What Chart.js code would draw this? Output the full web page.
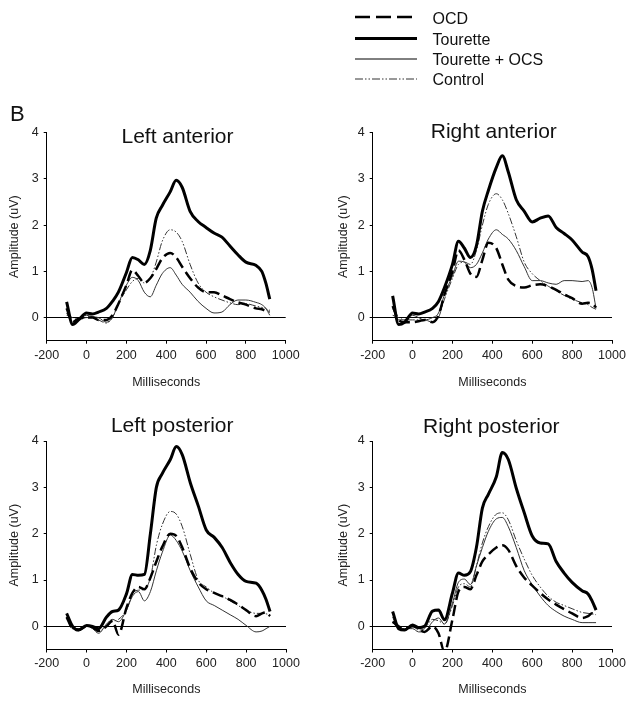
<!DOCTYPE html>
<html>
<head>
<meta charset="utf-8">
<script src="https://cdn.jsdelivr.net/npm/chart.js@4"></script>
<style>
  html, body { margin: 0; padding: 0; background: #fff; }
  #page { position: relative; width: 634px; height: 705px; overflow: hidden; }
  canvas { position: absolute; }
  #overlay { position: absolute; left: 0; top: 0; }
  #overlay text { font-family: "Liberation Sans", Arial, sans-serif; fill: #111; }
</style>
</head>
<body>
<div id="page">
  <canvas id="la" width="317" height="310" style="left:0px;top:90px"></canvas>
  <canvas id="ra" width="317" height="310" style="left:317px;top:90px"></canvas>
  <canvas id="lp" width="317" height="307" style="left:0px;top:398px"></canvas>
  <canvas id="rp" width="317" height="307" style="left:317px;top:398px"></canvas>
  <svg id="overlay" width="634" height="705">
    <!-- legend -->
    <line x1="355" y1="17" x2="417" y2="17" stroke="#000" stroke-width="2.7" stroke-dasharray="15 6"/>
    <line x1="355" y1="38.5" x2="417" y2="38.5" stroke="#000" stroke-width="3.2"/>
    <line x1="355" y1="59" x2="417" y2="59" stroke="#000" stroke-width="1"/>
    <line x1="355" y1="79" x2="417" y2="79" stroke="#333" stroke-width="1" stroke-dasharray="8 2 1.5 2 1.5 2"/>
    <text x="432.5" y="24" font-size="16">OCD</text>
    <text x="432.5" y="45" font-size="16">Tourette</text>
    <text x="432.5" y="65" font-size="16">Tourette + OCS</text>
    <text x="432.5" y="85" font-size="16">Control</text>
    <text x="10" y="121" font-size="22">B</text>
    <!-- panel titles -->
    <text x="177.5" y="143" font-size="21" text-anchor="middle">Left anterior</text>
    <text x="493.8" y="137.7" font-size="21" text-anchor="middle">Right anterior</text>
    <text x="172.2" y="431.7" font-size="21" text-anchor="middle">Left posterior</text>
    <text x="491.3" y="433" font-size="21" text-anchor="middle">Right posterior</text>
  </svg>
</div>
<script>
// time points (ms) shared by all waveforms
const ms = [-100,-70,-40,0,30,60,100,130,160,200,230,260,290,320,350,380,420,450,480,520,560,600,640,680,720,760,800,850,880,900,920];

// Left anterior
const laOCD = [0.2,-0.1,-0.02,0,0,-0.05,-0.05,0.05,0.3,0.7,1.03,0.9,0.75,0.85,1.05,1.28,1.4,1.3,1.1,0.85,0.65,0.55,0.55,0.48,0.4,0.33,0.28,0.2,0.18,0.15,0.15];
const laTourette = [0.34,-0.15,-0.05,0.1,0.08,0.12,0.2,0.35,0.55,0.97,1.3,1.25,1.15,1.45,2.15,2.42,2.72,2.97,2.82,2.3,2.08,1.95,1.83,1.74,1.55,1.36,1.2,1.13,1.0,0.75,0.4];
const laTourOCS = [0.1,-0.1,-0.05,0.05,0.02,0,-0.1,0,0.3,0.7,0.87,0.8,0.55,0.45,0.7,0.95,1.08,0.92,0.72,0.55,0.35,0.2,0.1,0.12,0.28,0.38,0.38,0.33,0.28,0.2,0.05];
const laControl = [0.05,0,-0.05,0,0,-0.05,-0.12,0,0.3,0.6,0.78,0.85,0.75,0.85,1.2,1.65,1.9,1.85,1.65,1.15,0.75,0.55,0.45,0.38,0.32,0.28,0.3,0.25,0.22,0.2,0.1];

// Right anterior
const raOCD = [0.25,-0.05,-0.1,-0.1,-0.08,-0.05,-0.1,0.05,0.5,1.0,1.45,1.25,0.95,0.88,1.25,1.62,1.5,1.15,0.82,0.68,0.65,0.7,0.72,0.68,0.6,0.5,0.42,0.3,0.32,0.3,0.22];
const raTourette = [0.47,-0.15,-0.1,0.1,0.08,0.12,0.2,0.35,0.65,1.15,1.65,1.5,1.3,1.55,2.3,2.75,3.25,3.5,3.15,2.55,2.3,2.07,2.15,2.2,1.95,1.82,1.68,1.42,1.32,1.05,0.58];
const raTourOCS = [0.2,-0.05,-0.05,0.05,0,-0.05,0,0.1,0.5,0.9,1.22,1.2,1.08,1.15,1.4,1.7,1.9,1.8,1.7,1.45,1.1,0.8,0.8,0.75,0.72,0.8,0.8,0.78,0.8,0.65,0.2];
const raControl = [0.05,0,-0.05,-0.05,-0.05,-0.05,-0.1,0,0.4,0.85,1.15,1.2,1.15,1.45,2.0,2.45,2.68,2.55,2.25,1.75,1.2,0.95,0.8,0.68,0.58,0.48,0.4,0.32,0.28,0.22,0.18];

// Left posterior
const lpOCD = [0.2,-0.05,-0.08,0,-0.02,-0.1,0,0.12,-0.18,0.4,0.72,0.85,0.8,1.05,1.4,1.72,2.0,1.95,1.7,1.25,0.95,0.8,0.72,0.65,0.57,0.47,0.35,0.22,0.28,0.3,0.22];
const lpTourette = [0.28,0,-0.08,0.02,0,-0.05,0.2,0.32,0.35,0.7,1.12,1.1,1.12,2.0,3.0,3.3,3.6,3.88,3.7,3.1,2.6,2.08,1.92,1.7,1.38,1.12,0.97,0.93,0.77,0.58,0.32];
const lpTourOCS = [0.2,-0.05,-0.05,0,-0.05,-0.15,0.05,0.15,0.1,0.35,0.65,0.75,0.55,0.75,1.2,1.6,1.97,1.85,1.62,1.2,0.85,0.55,0.45,0.35,0.25,0.15,0.02,-0.12,-0.1,-0.05,0];
const lpControl = [0.2,-0.05,-0.05,0,0,-0.1,0,0.1,0.15,0.35,0.7,0.78,0.8,1.05,1.75,2.2,2.48,2.42,2.15,1.55,1.0,0.85,0.72,0.65,0.55,0.45,0.35,0.28,0.28,0.27,0.25];

// Right posterior
const rpOCD = [0.1,0,-0.05,0,-0.05,-0.12,0,-0.15,-0.55,0.15,0.75,0.85,0.8,1.1,1.4,1.55,1.7,1.75,1.65,1.3,1.05,0.88,0.72,0.58,0.47,0.37,0.28,0.18,0.22,0.28,0.22];
const rpTourette = [0.32,-0.05,-0.08,0.03,-0.03,0,0.33,0.35,0.14,0.72,1.15,1.1,1.18,1.7,2.55,2.85,3.23,3.75,3.6,2.98,2.45,1.95,1.8,1.78,1.4,1.15,0.95,0.77,0.7,0.55,0.35];
const rpTourOCS = [0.2,-0.05,-0.05,-0.05,-0.12,-0.12,0.1,0.18,0.05,0.5,0.95,1.02,0.9,1.3,1.7,2.05,2.32,2.35,2.15,1.7,1.2,0.9,0.65,0.45,0.32,0.22,0.15,0.08,0.08,0.08,0.08];
const rpControl = [0.1,-0.05,-0.05,0,-0.08,-0.05,0.15,0.12,0.05,0.45,0.85,0.92,0.85,1.3,1.8,2.15,2.42,2.45,2.3,1.85,1.45,1.1,0.85,0.65,0.52,0.45,0.38,0.3,0.28,0.27,0.25];

const xTicks = [-200, 0, 200, 400, 600, 800, 1000];
const yTicks = [0, 1, 2, 3, 4];

const FONT = '"Liberation Sans", Arial, sans-serif';

function toPoints(vals) {
  return vals.map((v, i) => ({ x: ms[i], y: v }));
}

function makePanel(id, series, geo) {
  const ctx = document.getElementById(id).getContext("2d");
  return new Chart(ctx, {
    type: "line",
    data: {
      datasets: [
        { label: "OCD", data: toPoints(series[0]), borderColor: "#000", borderWidth: 2.5, borderDash: [11, 5] },
        { label: "Tourette", data: toPoints(series[1]), borderColor: "#000", borderWidth: 3 },
        { label: "Tourette + OCS", data: toPoints(series[2]), borderColor: "#333", borderWidth: 1 },
        { label: "Control", data: toPoints(series[3]), borderColor: "#333", borderWidth: 1, borderDash: [7, 2, 1.5, 2, 1.5, 2] }
      ]
    },
    options: {
      responsive: false,
      animation: false,
      devicePixelRatio: 1,
      datasets: {
        line: { pointRadius: 0, cubicInterpolationMode: "monotone", fill: false }
      },
      layout: { padding: { left: 0, top: geo.top, right: geo.right, bottom: 0 } },
      plugins: { legend: { display: false }, tooltip: { enabled: false } },
      scales: {
        x: {
          type: "linear",
          min: -200,
          max: 1000,
          afterBuildTicks: s => { s.ticks = xTicks.map(v => ({ value: v })); },
          ticks: { autoSkip: false, maxRotation: 0, color: "#222", padding: 4, font: { family: FONT, size: 12.5 }, callback: v => String(v) },
          grid: { drawOnChartArea: false, tickLength: 3, tickColor: "#000" },
          border: { color: "#000", width: 1 },
          title: { display: true, text: "Milliseconds", color: "#222", font: { family: FONT, size: 12.5, lineHeight: 1.2 }, padding: { top: 0, bottom: geo.xTitle - 7.5 } },
          afterFit: s => { s.height = geo.xH; }
        },
        y: {
          min: -0.5,
          max: 4,
          afterBuildTicks: s => { s.ticks = [-0.5].concat(yTicks).map(v => ({ value: v })); },
          ticks: { color: "#222", padding: 5, font: { family: FONT, size: 12.5 }, callback: v => (Number.isInteger(v) ? String(v) : "") },
          grid: {
            color: c => (c.tick && c.tick.value === 0 ? "#000" : "rgba(0,0,0,0)"),
            tickColor: c => (c.tick && c.tick.value === -0.5 ? "rgba(0,0,0,0)" : "#000"),
            tickLength: 3,
            lineWidth: 1
          },
          border: { color: "#000", width: 1 },
          title: { display: true, text: "Amplitude (uV)", color: "#222", font: { family: FONT, size: 12.5, lineHeight: 1.2 }, padding: { top: geo.yTitle - 7.5, bottom: 0 } },
          afterFit: s => { s.width = geo.yW; }
        }
      }
    }
  });
}

makePanel("la", [laOCD, laTourette, laTourOCS, laControl], { top: 42.7, right: 31.3, yW: 46.7, xH: 59.3, yTitle: 15, xTitle: 17 });
makePanel("ra", [raOCD, raTourette, raTourOCS, raControl], { top: 42.7, right: 22, yW: 55.7, xH: 59.3, yTitle: 26.7, xTitle: 17.3 });
makePanel("lp", [lpOCD, lpTourette, lpTourOCS, lpControl], { top: 43, right: 31, yW: 46.7, xH: 55.5, yTitle: 15, xTitle: 15 });
makePanel("rp", [rpOCD, rpTourette, rpTourOCS, rpControl], { top: 43, right: 22, yW: 55.7, xH: 55.5, yTitle: 26.7, xTitle: 15 });
</script>
</body>
</html>
